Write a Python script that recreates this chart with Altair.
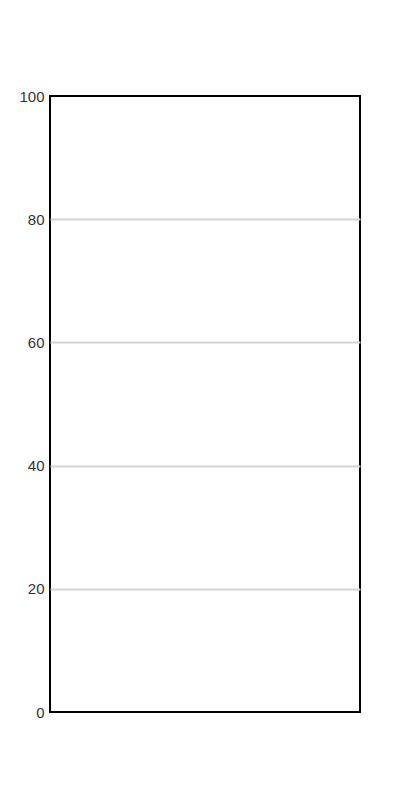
import altair as alt
import pandas as pd

y_values = [0, 100]
y_ticks = [0, 20, 40, 60, 80, 100]

df = pd.DataFrame({"y": y_values})

chart = (
    alt.Chart(df)
    .mark_point(opacity=0)
    .encode(
        y=alt.Y(
            "y:Q",
            scale=alt.Scale(domain=[0, 100], nice=False, zero=True),
            axis=alt.Axis(
                values=y_ticks,
                title=None,
                ticks=False,
                domain=False,
                labelFont="Liberation Sans",
                labelFontSize=15,
                labelColor="#333333",
                labelPadding=6,
                gridColor="#d3d3d3",
                gridWidth=2,
                gridOpacity=alt.ExprRef("datum.value > 0 && datum.value < 100 ? 1 : 0"),
            ),
        )
    )
    .properties(
        width=310,
        height=616,
        autosize=alt.AutoSizeParams(type="none"),
        padding={"left": 50, "top": 96, "right": 40, "bottom": 88},
    )
    .configure_view(stroke="black", strokeWidth=2)
)

chart.save("out.html", embed_options={"renderer": "svg", "actions": False})
